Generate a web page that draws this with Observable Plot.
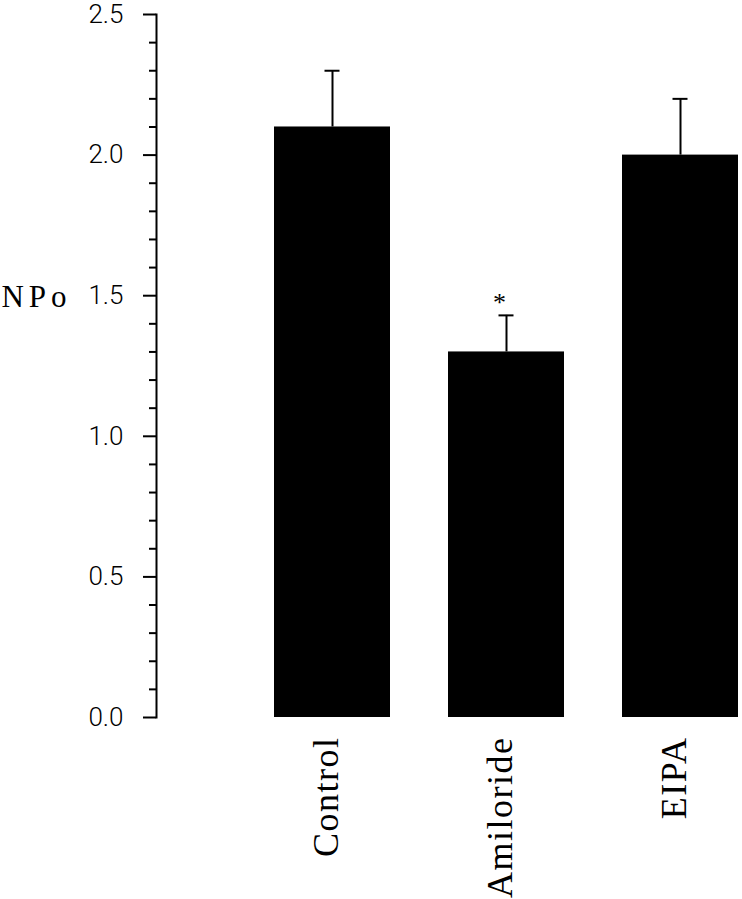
<!DOCTYPE html>
<html>
<head>
<meta charset="utf-8">
<script src="https://cdn.jsdelivr.net/npm/d3@7"></script>
<script src="https://cdn.jsdelivr.net/npm/@observablehq/plot@0.6"></script>
<style>
  html, body { margin: 0; padding: 0; background: #fff; }
  #chart svg { display: block; background: #fff; }
  g[aria-label="x-axis tick label"] text { letter-spacing: 1.5px; }
  g.ylab text { letter-spacing: 5px; }
</style>
</head>
<body>
<div id="chart"></div>
<script>
const categories = ["Control", "Amiloride", "EIPA"];
const means = [2.10, 1.30, 2.00];
const sems = [0.20, 0.13, 0.20];
const significant = [false, true, false];
const majorTicks = [0, 0.5, 1.0, 1.5, 2.0, 2.5];
const minorTicks = [0.1, 0.2, 0.3, 0.4, 0.6, 0.7, 0.8, 0.9, 1.1, 1.2, 1.3, 1.4, 1.6, 1.7, 1.8, 1.9, 2.1, 2.2, 2.3, 2.4];
const yLabel = "NPo";

const data = categories.map((c, i) => ({cat: c, mean: means[i], top: means[i] + sems[i], sig: significant[i]}));

const serif = "'Liberation Serif', 'DejaVu Serif', serif";
const chart = Plot.plot({
  width: 742,
  height: 899,
  marginTop: 14,
  marginBottom: 182,
  marginLeft: 156,
  marginRight: 0,
  x: {domain: categories, range: [273.5, 737.5], paddingInner: 1/3, paddingOuter: 0},
  y: {domain: [0, 2.5]},
  marks: [
    Plot.barY(data, {x: "cat", y: "mean", fill: "black"}),
    Plot.ruleX(data, {x: "cat", y1: "mean", y2: "top", stroke: "black", strokeWidth: 2}),
    Plot.tickY(data, {x: "cat", y: "top", stroke: "black", strokeWidth: 2, insetLeft: 50.5, insetRight: 50.5}),
    Plot.text(data.filter(d => d.sig), {x: "cat", y: "top", text: () => "*", dy: -13, dx: -7, fontSize: 26, fontFamily: serif, lineAnchor: "middle"}),
    Plot.frame({anchor: "left", stroke: "black", strokeWidth: 2}),
    Plot.axisY({ticks: majorTicks, tickSize: 13, tickPadding: 20, tickFormat: d3.format(".1f"), stroke: "black", strokeWidth: 2, label: null,
      fontSize: 26, fontFamily: "Roboto, 'DejaVu Sans', sans-serif", fontWeight: 300}),
    Plot.axisY({ticks: minorTicks, tickSize: 7, text: null, stroke: "black", strokeWidth: 2, label: null}),
    Plot.axisX({tickRotate: -90, tickSize: 0, tickPadding: 19, dx: -6, label: null, fontSize: 36, fontFamily: serif}),
    Plot.text([yLabel], {frameAnchor: "left", y: [1.5], dx: -120, dy: 1, text: d => d, textAnchor: "middle", className: "ylab",
      fontSize: 31, fontFamily: serif})
  ]
});
document.getElementById("chart").appendChild(chart);
</script>
</body>
</html>
